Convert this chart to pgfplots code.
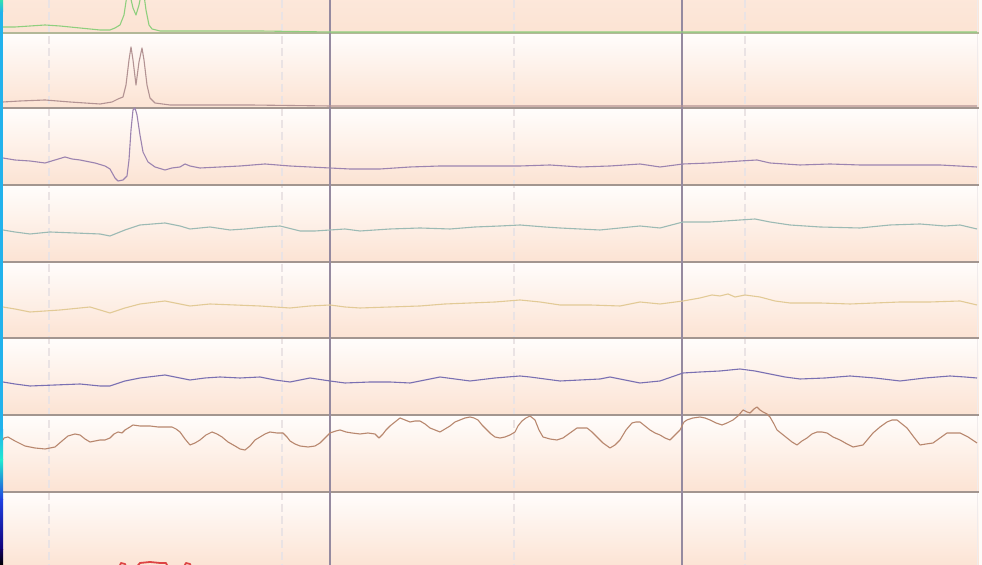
\documentclass[border=0pt]{standalone}
\usepackage{pgfplots}
\pgfplotsset{compat=1.18}
\definecolor{bgbase}{HTML}{FEF4EE}
\definecolor{striptop}{HTML}{FFFDFC}
\definecolor{stripbot}{HTML}{FCE3D3}
\definecolor{border}{HTML}{A39690}
\definecolor{bordergreen}{HTML}{B3B898}
\definecolor{vdark}{HTML}{958AA0}
\definecolor{vlight}{HTML}{EAE3E4}
\definecolor{cgreen}{HTML}{8FCF7E}
\definecolor{crose}{HTML}{B39393}
\definecolor{cpurple}{HTML}{9C84B0}
\definecolor{cteal}{HTML}{9CBAB4}
\definecolor{ctan}{HTML}{E2CA96}
\definecolor{cblue}{HTML}{7A70B2}
\definecolor{cbrown}{HTML}{B8876E}
\definecolor{cred}{HTML}{DD4444}
\definecolor{barA}{HTML}{30E0B0}
\definecolor{barB}{HTML}{22B2EC}
\definecolor{barC}{HTML}{20E8D0}
\definecolor{barD}{HTML}{2040E0}
\definecolor{barE}{HTML}{100078}
\definecolor{barF}{HTML}{100060}
\begin{document}
\begin{tikzpicture}
\path[use as bounding box] (0,0) rectangle (491pt,282.5pt);
\begin{axis}[at={(0,0)}, anchor=south west, scale only axis,
  width=491pt, height=282.5pt, xmin=0, xmax=982, ymin=0, ymax=565,
  y dir=reverse, hide axis, clip=true,
  every axis plot/.append style={no markers, line width=0.55pt, line join=round}]
% backgrounds
\fill[bgbase] (axis cs:0,0) rectangle (axis cs:982,565);
\shade[top color=stripbot!60!striptop, bottom color=stripbot] (axis cs:3,-43) rectangle (axis cs:979,33);
\shade[top color=striptop, bottom color=stripbot] (axis cs:3,33) rectangle (axis cs:979,108);
\shade[top color=striptop, bottom color=stripbot] (axis cs:3,108) rectangle (axis cs:979,185);
\shade[top color=striptop, bottom color=stripbot] (axis cs:3,185) rectangle (axis cs:979,262);
\shade[top color=striptop, bottom color=stripbot] (axis cs:3,262) rectangle (axis cs:979,338);
\shade[top color=striptop, bottom color=stripbot] (axis cs:3,338) rectangle (axis cs:979,415);
\shade[top color=striptop, bottom color=stripbot] (axis cs:3,415) rectangle (axis cs:979,492);
\shade[top color=striptop, bottom color=stripbot] (axis cs:3,492) rectangle (axis cs:979,568);
\fill[white!60!bgbase] (axis cs:979,0) rectangle (axis cs:982,565);
% dashed light verticals
\draw[vlight, line width=0.6pt, dash pattern=on 4pt off 2pt] (axis cs:49,0) -- (axis cs:49,565);
\draw[vlight, line width=0.6pt, dash pattern=on 4pt off 2pt] (axis cs:282,0) -- (axis cs:282,565);
\draw[vlight, line width=0.6pt, dash pattern=on 4pt off 2pt] (axis cs:514,0) -- (axis cs:514,565);
\draw[vlight, line width=0.6pt, dash pattern=on 4pt off 2pt] (axis cs:745,0) -- (axis cs:745,565);
\draw[vlight!70!white, line width=0.5pt] (axis cs:977,0) -- (axis cs:977,565);
% horizontal borders
\draw[bordergreen, line width=1.1pt] (axis cs:3,33) -- (axis cs:979,33);
\draw[border, line width=0.9pt] (axis cs:3,108) -- (axis cs:979,108);
\draw[border, line width=0.9pt] (axis cs:3,185) -- (axis cs:979,185);
\draw[border, line width=0.9pt] (axis cs:3,262) -- (axis cs:979,262);
\draw[border, line width=0.9pt] (axis cs:3,338) -- (axis cs:979,338);
\draw[border, line width=0.9pt] (axis cs:3,415) -- (axis cs:979,415);
\draw[border, line width=0.9pt] (axis cs:3,492) -- (axis cs:979,492);
% dark verticals
\draw[vdark, line width=0.55pt] (axis cs:330,0) -- (axis cs:330,565);
\draw[vdark, line width=0.55pt] (axis cs:682,0) -- (axis cs:682,565);
% left colour bar
\shade[top color=barA, bottom color=barB] (axis cs:0,0) rectangle (axis cs:3,12);
\fill[barB] (axis cs:0,12) rectangle (axis cs:3,430);
\shade[top color=barB, bottom color=barC] (axis cs:0,430) rectangle (axis cs:3,460);
\shade[top color=barC, bottom color=barD] (axis cs:0,460) rectangle (axis cs:3,500);
\shade[top color=barD, bottom color=barE] (axis cs:0,500) rectangle (axis cs:3,550);
\shade[top color=barF, bottom color=black] (axis cs:0,550) rectangle (axis cs:3,565);
% strip 1 (green)
\addplot[cgreen] coordinates {(3,27) (15,27) (30,26) (45,25) (60,26) (80,28) (100,30) (110,30) (115,28) (120,25) (124,15) (127,-5) (130,-5) (133,8) (136,15) (139,5) (141,-5) (144,-5) (146,10) (149,25) (152,29) (160,31) (200,31) (260,31) (330,32) (500,32) (700,32) (977,32)};
% strip 2 (rose)
\addplot[crose] coordinates {(3,102) (20,101) (45,100) (70,102) (100,104) (112,102) (118,99) (123,97) (126,85) (129,60) (131,47) (133,60) (136,85) (139,62) (142,48) (144,60) (147,85) (150,98) (155,103) (170,105) (250,105) (330,106) (500,106) (700,106) (977,106)};
% strip 3 (purple)
\addplot[cpurple] coordinates {(3,158) (15,160) (30,161) (45,163) (55,160) (65,157) (72,159) (80,160) (95,163) (105,166) (110,169) (115,178) (118,181) (123,180) (127,176) (129,160) (131,130) (133,110) (135,108) (137,115) (140,135) (143,152) (148,162) (155,167) (165,170) (172,168) (180,167) (185,164) (190,166) (200,168) (220,167) (240,166) (265,164) (290,166) (310,167) (330,168) (350,169) (380,169) (410,167) (440,166) (470,166) (500,166) (520,166) (550,165) (580,167) (610,166) (640,164) (660,167) (683,164) (710,163) (740,161) (757,160) (770,163) (800,165) (830,164) (860,165) (900,165) (940,165) (977,167)};
% strip 4 (teal)
\addplot[cteal] coordinates {(3,230) (15,232) (30,234) (50,232) (75,233) (100,234) (110,236) (125,230) (140,225) (165,223) (180,226) (190,229) (210,227) (230,230) (245,229) (265,227) (280,226) (300,231) (315,231) (330,230) (345,229) (360,231) (390,229) (420,228) (450,229) (475,227) (500,226) (520,225) (545,227) (560,228) (600,230) (620,228) (640,226) (660,228) (683,222) (710,222) (740,220) (755,219) (770,222) (790,225) (820,227) (860,228) (890,225) (920,224) (945,226) (960,225) (977,229)};
% strip 5 (tan)
\addplot[ctan] coordinates {(3,307) (15,309) (30,312) (60,310) (90,307) (110,313) (125,308) (140,304) (165,301) (180,304) (190,306) (210,304) (235,305) (260,306) (290,308) (310,306) (330,305) (345,307) (360,308) (390,307) (420,306) (445,304) (470,303) (495,302) (520,300) (540,302) (560,305) (590,305) (620,306) (640,302) (660,304) (683,301) (700,298) (712,295) (720,296) (728,294) (735,297) (745,295) (760,297) (775,301) (790,303) (820,303) (850,304) (875,303) (900,302) (930,302) (960,301) (977,305)};
% strip 6 (blue)
\addplot[cblue] coordinates {(3,382) (15,384) (30,386) (55,385) (80,384) (100,386) (110,386) (125,381) (140,378) (165,375) (180,378) (190,380) (205,378) (220,377) (240,378) (260,377) (275,380) (290,382) (310,378) (330,381) (345,383) (370,382) (390,382) (410,383) (425,380) (440,377) (455,379) (470,381) (495,378) (520,376) (530,377) (545,379) (560,381) (580,380) (600,379) (610,377) (625,380) (640,383) (660,381) (683,373) (700,372) (720,371) (740,369) (755,371) (770,374) (785,377) (800,379) (825,378) (850,376) (875,378) (900,381) (925,378) (950,376) (965,377) (977,378)};
% strip 7 (brown)
\addplot[cbrown] coordinates {(3,440) (4,438) (8,437) (15,441) (25,446) (35,448) (45,449) (55,447) (62,441) (68,436) (75,434) (80,435) (85,439) (90,442) (95,441) (100,440) (105,440) (110,438) (114,434) (118,432) (122,433) (125,430) (130,427) (133,425) (140,426) (150,426) (158,427) (165,427) (172,427) (176,429) (180,432) (185,439) (190,445) (195,443) (200,440) (206,435) (212,432) (217,434) (222,437) (228,442) (235,446) (240,449) (245,450) (250,446) (255,440) (260,437) (265,434) (270,432) (277,433) (283,433) (287,437) (290,441) (295,444) (300,446) (308,447) (315,446) (320,443) (325,438) (330,433) (336,431) (340,430) (346,432) (352,433) (360,434) (368,433) (375,434) (379,438) (383,434) (386,430) (390,426) (395,422) (400,418) (405,420) (410,422) (415,421) (420,421) (425,424) (430,428) (435,430) (440,432) (445,429) (450,426) (455,422) (460,420) (465,418) (470,417) (474,418) (478,420) (482,425) (487,430) (491,434) (495,437) (500,438) (505,437) (510,435) (515,432) (518,426) (522,421) (526,418) (530,416) (535,420) (539,430) (543,437) (550,439) (557,440) (563,438) (570,433) (577,428) (582,428) (587,428) (592,432) (597,437) (603,443) (610,448) (615,445) (620,440) (626,430) (632,423) (636,422) (640,422) (645,426) (650,430) (655,433) (660,435) (665,438) (670,440) (675,435) (680,430) (684,422) (687,420) (693,418) (700,417) (705,418) (710,420) (716,423) (722,425) (727,423) (733,420) (738,416) (743,410) (747,412) (750,413) (754,409) (757,407) (760,410) (763,412) (767,414) (770,417) (774,424) (777,430) (782,434) (787,438) (792,442) (797,445) (802,441) (807,438) (812,434) (817,432) (822,432) (827,433) (833,437) (840,440) (847,444) (853,447) (858,446) (863,445) (868,439) (873,433) (880,427) (887,422) (892,420) (897,420) (902,424) (907,428) (913,436) (920,445) (926,444) (933,443) (940,438) (947,433) (953,433) (960,433) (968,437) (977,443)};
% strip 8 (red, mostly below the visible area)
\addplot[cred, line width=0.9pt] coordinates {(90,590) (112,580) (118,570) (121,563) (125,564) (129,575) (134,570) (140,563) (150,562) (160,563) (166,563) (172,576) (180,574) (186,563) (190,564) (196,580) (220,590)};
\end{axis}
\end{tikzpicture}
\end{document}
